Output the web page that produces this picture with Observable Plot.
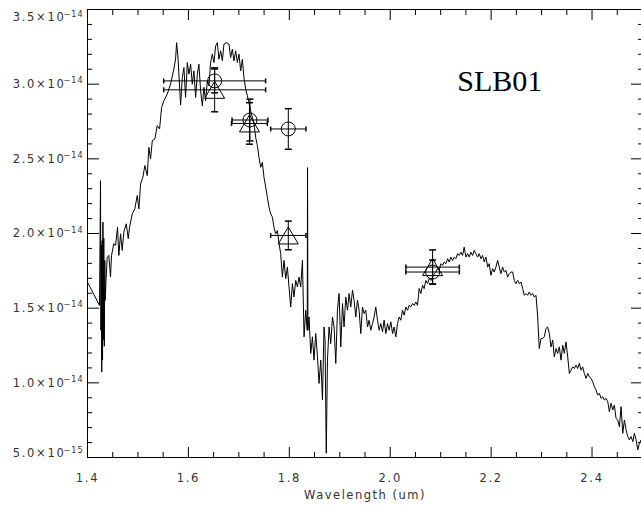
<!DOCTYPE html>
<html><head><meta charset="utf-8">
<script src="https://cdn.jsdelivr.net/npm/d3@7"></script>
<script src="https://cdn.jsdelivr.net/npm/@observablehq/plot@0.6"></script>
<style>
html,body{margin:0;padding:0;background:#fff;}
#chart svg{display:block;}
g[aria-label*="tick label"] text{letter-spacing:1.7px;}
text[aria-label="axis title"]{letter-spacing:1.5px;}
text[aria-label="exponent"]{letter-spacing:1px;}
</style></head><body><div id="chart"></div>
<script>
// Spectrum: wavelength (um) and flux (units of 1e-14)
const specWave = [1.4010,1.4238,1.4258,1.4266,1.4274,1.4282,1.4290,1.4298,1.4306,1.4313,1.4323,1.4333,1.4343,1.4353,1.4367,1.4391,1.4423,1.4456,1.4476,1.4522,1.4556,1.4595,1.4621,1.4655,1.4688,1.4720,1.4768,1.4808,1.4833,1.4887,1.4938,1.4986,1.5018,1.5052,1.5097,1.5137,1.5185,1.5216,1.5250,1.5284,1.5335,1.5383,1.5429,1.5468,1.5514,1.5581,1.5647,1.5712,1.5746,1.5766,1.5792,1.5845,
1.5879,1.5911,1.5944,1.5978,1.6010,1.6044,1.6077,1.6109,1.6143,1.6177,1.6208,1.6242,1.6276,1.6308,1.6341,1.6375,1.6407,1.6440,1.6474,1.6506,1.6540,1.6573,1.6605,1.6639,1.6673,1.6704,1.6758,1.6804,1.6837,1.6871,1.6903,1.6937,1.6970,1.7002,1.7036,1.7069,1.7101,1.7135,1.7169,1.7200,1.7234,1.7268,1.7300,1.7333,1.7367,1.7399,1.7433,1.7466,1.7498,1.7532,1.7565,1.7597,1.7631,1.7665,1.7696,1.7730,1.7764,1.7796,1.7829,1.7863,1.7895,1.7929,1.7962,1.7994,1.8028,1.8061,1.8093,1.8127,1.8161,1.8192,1.8226,1.8260,1.8292,1.8325,1.8355,1.8361,1.8369,1.8391,1.8425,1.8458,1.8490,1.8524,1.8558,1.8589,1.8623,1.8657,1.8688,1.8708,1.8732,1.8756,1.8788,1.8821,1.8855,1.8887,1.8921,1.8954,1.8986,1.9020,1.9054,1.9085,1.9119,1.9153,1.9185,1.9218,1.9252,1.9284,1.9317,1.9351,1.9383,1.9417,1.9450,1.9482,1.9516,1.9550,1.9581,1.9615,1.9649,1.9681,1.9714,1.9748,1.9780,1.9813,1.9847,1.9879,1.9913,1.9946,1.9978,
2.0012,2.0046,2.0077,2.0111,2.0145,2.0177,2.0210,2.0244,2.0276,2.0310,2.0343,2.0375,2.0409,2.0442,2.0474,2.0508,2.0542,2.0573,2.0607,2.0641,2.0673,2.0706,2.0740,2.0772,2.0806,2.0839,2.0871,2.0905,2.0938,2.0970,2.1004,2.1038,2.1069,2.1103,2.1137,2.1169,2.1202,2.1236,2.1268,2.1302,2.1335,2.1367,2.1401,2.1434,2.1466,2.1500,2.1534,2.1565,2.1599,2.1633,2.1665,2.1698,2.1732,2.1764,2.1798,2.1831,2.1863,2.1897,2.1931,2.1962,2.1996,2.2030,2.2062,2.2095,2.2129,2.2161,2.2194,2.2228,2.2260,2.2294,2.2327,2.2359,2.2393,2.2427,2.2458,2.2492,2.2526,2.2558,2.2591,2.2625,2.2657,2.2690,2.2724,2.2756,2.2790,2.2823,2.2855,2.2889,2.2923,2.2942,2.2954,2.2988,2.3022,2.3054,2.3087,2.3121,2.3153,2.3187,2.3220,2.3252,2.3286,2.3319,2.3351,2.3385,2.3419,2.3450,2.3484,2.3518,2.3550,2.3583,2.3617,2.3649,2.3683,2.3716,2.3748,2.3782,2.3815,2.3847,2.3881,2.3915,2.3946,2.3980,2.4014,2.4046,2.4079,2.4113,2.4145,2.4179,2.4212,2.4244,2.4278,2.4312,2.4343,2.4377,2.4411,2.4442,2.4476,2.4510,2.4542,2.4575,2.4609,2.4641,2.4675,2.4708,2.4740,2.4774,2.4808,2.4839,2.4873,2.4907,2.4938,2.4972,2.4992];
const specFlux = [1.668,1.519,2.354,1.352,1.920,1.072,1.953,1.152,2.076,1.286,1.967,1.245,1.820,1.553,1.687,1.840,1.853,1.709,1.853,1.932,1.920,2.042,1.853,1.998,1.887,2.009,2.065,1.965,2.042,2.132,2.165,2.254,2.165,2.332,2.376,2.455,2.388,2.577,2.499,2.622,2.633,2.722,2.700,2.844,2.889,2.934,3.002,3.101,3.169,3.278,3.189,2.860,
3.044,3.111,2.911,3.145,3.067,3.134,3.000,3.089,2.911,3.067,3.134,2.956,2.855,2.978,2.889,3.022,2.989,3.145,3.201,3.145,3.256,3.278,3.167,3.223,3.156,3.268,3.278,3.268,3.178,3.234,3.156,3.223,3.145,3.201,3.089,3.167,3.044,2.967,2.922,2.877,2.822,2.777,2.733,2.644,2.588,2.510,2.443,2.477,2.376,2.310,2.243,2.176,2.132,2.109,2.042,1.998,2.020,1.932,1.865,1.708,1.820,1.698,1.775,1.642,1.508,1.664,1.575,1.686,1.642,1.708,1.642,1.820,1.308,1.486,1.352,2.441,1.352,1.441,1.197,1.308,1.152,1.330,1.174,0.996,1.152,0.885,1.374,1.286,0.529,1.152,1.374,1.263,1.441,1.374,1.130,1.486,1.598,1.241,1.531,1.374,1.575,1.486,1.598,1.508,1.620,1.553,1.441,1.553,1.486,1.330,1.508,1.464,1.486,1.374,1.419,1.352,1.397,1.441,1.508,1.419,1.352,1.397,1.341,1.419,1.330,1.397,1.352,
1.408,1.330,1.374,1.308,1.397,1.441,1.419,1.486,1.453,1.508,1.486,1.519,1.508,1.531,1.519,1.541,1.519,1.631,1.598,1.653,1.631,1.686,1.664,1.698,1.686,1.708,1.731,1.742,1.765,1.753,1.798,1.787,1.809,1.798,1.831,1.809,1.842,1.820,1.842,1.831,1.865,1.853,1.875,1.853,1.909,1.842,1.865,1.842,1.875,1.853,1.887,1.865,1.842,1.865,1.831,1.853,1.809,1.842,1.775,1.798,1.720,1.765,1.742,1.775,1.820,1.775,1.731,1.775,1.742,1.753,1.708,1.731,1.742,1.742,1.686,1.664,1.686,1.664,1.675,1.631,1.586,1.598,1.586,1.608,1.586,1.598,1.575,1.586,1.441,1.308,1.230,1.297,1.297,1.308,1.364,1.374,1.330,1.241,1.286,1.174,1.230,1.197,1.241,1.152,1.252,1.197,1.274,1.174,1.063,1.085,1.107,1.096,1.119,1.096,1.130,1.085,1.107,1.063,1.030,1.063,1.040,1.030,1.007,0.974,0.952,0.918,0.930,0.896,0.907,0.885,0.896,0.873,0.807,0.863,0.818,0.851,0.762,0.751,0.706,0.840,0.662,0.751,0.684,0.640,0.618,0.640,0.606,0.662,0.618,0.551,0.596,0.618,0.584];

// Photometry (circles) and synthetic photometry (triangles), flux in 1e-14
const circWave = [1.652, 1.722, 1.798, 2.084];
const circFlux = [3.022, 2.760, 2.700, 1.742];
const circWaveErr = [0.101, 0.0355, 0.035, 0.053];
const circFluxErr = [0.080, 0.140, 0.136, 0.080];
const triWave = [1.652, 1.721, 1.798, 2.084];
const triFlux = [2.962, 2.737, 1.987, 1.775];
const triWaveErr = [0.101, 0.0355, 0.035, 0.053];
const triFluxErr = [0.147, 0.139, 0.096, 0.115];

// Axis ticks and labels
const xMajorTicks = [1.4, 1.6, 1.8, 2.0, 2.2, 2.4];
const xTickLabels = ["1.4", "1.6", "1.8", "2.0", "2.2", "2.4"];
const xMinorTicks = [1.45,1.50,1.55,1.65,1.70,1.75,1.85,1.90,1.95,2.05,2.10,2.15,2.25,2.30,2.35,2.45];
const yMajorTicks = [0.5, 1.0, 1.5, 2.0, 2.5, 3.0, 3.5];
const yTickMantissa = ["5.0×10","1.0×10","1.5×10","2.0×10","2.5×10","3.0×10","3.5×10"];
const yTickExponent = ["−15","−14","−14","−14","−14","−14","−14"];
const yMinorTicks = [0.6,0.7,0.8,0.9,1.1,1.2,1.3,1.4,1.6,1.7,1.8,1.9,2.1,2.2,2.3,2.4,2.6,2.7,2.8,2.9,3.1,3.2,3.3,3.4];
const xTitle = "Wavelength (um)";
const labelText = ["SLB01"];
const labelWave = [2.133];
const labelFlux = [2.951];

const spectrum = specWave.map((w, i) => ({w, f: specFlux[i]}));
const circ = circWave.map((w, i) => ({w, f: circFlux[i], we: circWaveErr[i], fe: circFluxErr[i]}));
const tri = triWave.map((w, i) => ({w, f: triFlux[i], we: triWaveErr[i], fe: triFluxErr[i]}));
const annot = labelText.map((t, i) => ({t, w: labelWave[i], f: labelFlux[i]}));

const triSym = {draw(ctx, size) { const r = Math.sqrt(size / Math.PI); ctx.moveTo(0, -r * 0.85); ctx.lineTo(r, r * 0.85); ctx.lineTo(-r, r * 0.85); ctx.closePath(); }};
const hCap = {draw(ctx) { ctx.moveTo(-3.5, 0); ctx.lineTo(3.5, 0); }};
const vCap = {draw(ctx) { ctx.moveTo(0, -2.5); ctx.lineTo(0, 2.5); }};

const fx = d => xTickLabels[xMajorTicks.indexOf(d)];
const fy = d => yTickMantissa[yMajorTicks.indexOf(d)];
const fe = d => yTickExponent[yMajorTicks.indexOf(d)];
const blank = () => "";

function errMarks(data) {
  return [
    Plot.ruleX(data, {x: "w", y1: d => d.f - d.fe, y2: d => d.f + d.fe, stroke: "black"}),
    Plot.ruleY(data, {y: "f", x1: d => d.w - d.we, x2: d => d.w + d.we, stroke: "black"}),
    Plot.dot(data, {x: "w", y: d => d.f - d.fe, symbol: hCap, stroke: "black", fill: "none", r: 3}),
    Plot.dot(data, {x: "w", y: d => d.f + d.fe, symbol: hCap, stroke: "black", fill: "none", r: 3}),
    Plot.dot(data, {x: d => d.w - d.we, y: "f", symbol: vCap, stroke: "black", fill: "none", r: 3}),
    Plot.dot(data, {x: d => d.w + d.we, y: "f", symbol: vCap, stroke: "black", fill: "none", r: 3})
  ];
}

// y tick labels: mantissa via axis, exponent as raised smaller text; first/last shifted inside the frame like the original
function yLabels(ticks, shift) {
  return [
    Plot.axisY({label: null, anchor: "left", ticks, tickSize: 0, tickPadding: 22, dy: shift, tickFormat: fy, fill: "#333", fontSize: 11.5}),
    Plot.text(ticks, {y: d => d, frameAnchor: "left", textAnchor: "end", dx: -4, dy: shift - 3.5, text: fe, fill: "#333", fontSize: 8, ariaLabel: () => "exponent"})
  ];
}

const ax = {label: null};
const chart = Plot.plot({
  width: 641, height: 508,
  marginLeft: 87, marginRight: -1, marginTop: 9, marginBottom: 51,
  x: {domain: [1.4, 2.5], label: null},
  y: {domain: [0.5, 3.5], label: null},
  style: {fontFamily: "DejaVu Sans", fontSize: "11.5px", background: "white", color: "#333", overflow: "hidden"},
  marks: [
    Plot.frame({stroke: "black"}),
    // bottom axis
    Plot.axisX({...ax, anchor: "bottom", ticks: xMajorTicks, tickSize: -10, tickFormat: blank, stroke: "black"}),
    Plot.axisX({...ax, anchor: "bottom", ticks: xMinorTicks, tickSize: -5, tickFormat: blank, stroke: "black"}),
    Plot.axisX({...ax, anchor: "bottom", ticks: xMajorTicks, tickSize: 0, tickPadding: 16, tickFormat: fx, fill: "#333", fontSize: 11.5}),
    // top axis
    Plot.axisX({...ax, anchor: "top", ticks: xMajorTicks, tickSize: -10, tickFormat: blank, stroke: "black"}),
    Plot.axisX({...ax, anchor: "top", ticks: xMinorTicks, tickSize: -5, tickFormat: blank, stroke: "black"}),
    // left axis
    Plot.axisY({...ax, anchor: "left", ticks: yMajorTicks, tickSize: -12, tickFormat: blank, stroke: "black"}),
    Plot.axisY({...ax, anchor: "left", ticks: yMinorTicks, tickSize: -5, tickFormat: blank, stroke: "black"}),
    ...yLabels(yMajorTicks.slice(1, -1), 0),
    ...yLabels(yMajorTicks.slice(-1), 8),
    ...yLabels(yMajorTicks.slice(0, 1), -4),
    // right axis
    Plot.axisY({...ax, anchor: "right", ticks: yMajorTicks, tickSize: -12, tickFormat: blank, stroke: "black"}),
    Plot.axisY({...ax, anchor: "right", ticks: yMinorTicks, tickSize: -5, tickFormat: blank, stroke: "black"}),
    Plot.text([xTitle], {frameAnchor: "bottom", dy: 41, text: d => d, fill: "#333", fontSize: 11.5, ariaLabel: () => "axis title"}),
    // spectrum
    Plot.line(spectrum, {x: "w", y: "f", stroke: "black", strokeWidth: 1}),
    // photometry
    ...errMarks(circ),
    ...errMarks(tri),
    Plot.dot(circ, {x: "w", y: "f", r: 7, stroke: "black", fill: "none", strokeWidth: 1}),
    Plot.dot(tri, {x: "w", y: "f", r: 10, symbol: triSym, stroke: "black", fill: "none", strokeWidth: 1}),
    Plot.text(annot, {x: "w", y: "f", text: "t", textAnchor: "start", lineAnchor: "bottom", fontFamily: "Liberation Serif", fontSize: 30, fill: "black"})
  ]
});
document.getElementById("chart").appendChild(chart);
</script></body></html>
